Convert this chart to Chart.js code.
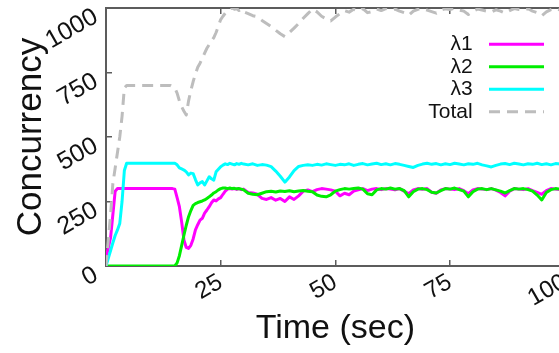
<!DOCTYPE html>
<html lang="en">
<head>
<meta charset="UTF-8">
<title>Concurrency over time</title>
<script src="https://cdn.jsdelivr.net/npm/chart.js@4.4.0/dist/chart.umd.min.js"></script>
<style>
  html, body { margin: 0; padding: 0; background: #fff; overflow: hidden; }
  #wrap { width: 559px; height: 353px; overflow: hidden; }
  canvas { display: block; }
</style>
</head>
<body>
<div id="wrap"><canvas id="concChart" width="600" height="353"></canvas></div>
<script>
// time in seconds: 0.5 s steps up to 30, then 1 s steps
const time = [
  0, 0.5, 1, 1.5, 2, 2.5, 3, 3.5, 4, 4.5,
  5, 5.5, 6, 6.5, 7, 7.5, 8, 8.5, 9, 9.5,
  10, 10.5, 11, 11.5, 12, 12.5, 13, 13.5, 14, 14.5,
  15, 15.5, 16, 16.5, 17, 17.5, 18, 18.5, 19, 19.5,
  20, 20.5, 21, 21.5, 22, 22.5, 23, 23.5, 24, 24.5,
  25, 25.5, 26, 26.5, 27, 27.5, 28, 28.5, 29, 29.5,
  30,
  31, 32, 33, 34, 35, 36, 37, 38, 39, 40,
  41, 42, 43, 44, 45, 46, 47, 48, 49, 50,
  51, 52, 53, 54, 55, 56, 57, 58, 59, 60,
  61, 62, 63, 64, 65, 66, 67, 68, 69, 70,
  71, 72, 73, 74, 75, 76, 77, 78, 79, 80,
  81, 82, 83, 84, 85, 86, 87, 88, 89, 90,
  91, 92, 93, 94, 95, 96, 97, 98, 99, 100
];

const lambda1 = [
  30, 70, 110, 200, 290, 300, 300, 300, 300, 300,
  300, 300, 300, 300, 300, 300, 300, 300, 300, 300,
  300, 300, 300, 300, 300, 300, 300, 300, 300, 300,
  298, 265, 230, 170, 100, 72, 68, 80, 105, 140,
  160, 178, 185, 205, 217, 230, 245, 256, 252, 260,
  265, 278, 290, 298, 300, 298, 300, 297, 300, 296,
  298,
  285, 283, 278, 262, 258, 265, 255, 262, 250, 268,
  258, 272, 290, 295, 288, 296, 300, 298, 295, 290,
  272, 282, 276, 290, 295, 300, 292, 298, 300, 296,
  300, 298, 295, 300, 290, 280, 295, 300, 297, 300,
  286, 282, 295, 300, 298, 296, 300, 292, 280, 295,
  300, 298, 296, 300, 294, 285, 272, 290, 300, 298,
  296, 300, 292, 285, 278, 292, 300, 298, 296, 300
];

const lambda2 = [
  0, 0, 0, 0, 0, 0, 0, 0, 0, 0,
  0, 0, 0, 0, 0, 0, 0, 0, 0, 0,
  0, 0, 0, 0, 0, 0, 0, 0, 0, 0,
  0, 12, 40, 80, 120, 158, 191, 215, 235, 242,
  246, 249, 252, 256, 262, 268, 275, 283, 288, 295,
  300, 302, 302, 300, 302, 300, 301, 299, 300, 298,
  295,
  282, 278, 276, 282, 288, 290, 287, 291, 289, 292,
  288, 291, 293, 290, 288, 275, 270, 268, 276, 290,
  296, 300, 298, 300, 302, 298, 280, 276, 295, 300,
  298, 302, 298, 300, 292, 268, 288, 298, 300, 296,
  286, 283, 292, 300, 298, 302, 296, 290, 268, 288,
  298, 300, 296, 300, 295, 290, 283, 292, 300, 298,
  300, 296, 290, 275, 256, 285, 296, 300, 298, 300
];

const lambda3 = [
  0, 30, 60, 90, 118, 140, 165, 250, 370, 398,
  398, 398, 398, 398, 398, 398, 398, 398, 398, 398,
  398, 398, 398, 398, 398, 398, 398, 398, 398, 398,
  398, 392, 380, 376, 372, 365, 353, 360, 358, 335,
  314, 322, 327, 314, 330, 346, 338, 333, 365, 375,
  385, 391, 396, 393, 398, 395, 392, 397, 394, 398,
  395,
  392, 396, 390, 393, 391, 385, 368, 348, 325, 345,
  370, 386, 390, 392, 390, 394, 391, 396, 393, 390,
  394, 392, 396, 390, 394, 397, 392, 395, 398, 393,
  396, 392, 397, 394, 390, 386, 382, 390, 395, 398,
  394, 397, 392, 396, 393, 398, 395, 392, 396, 394,
  398, 392, 388, 384, 390, 395, 397, 393, 398, 395,
  392, 396, 394, 398, 393, 396, 392, 397, 395, 394
];

const total = [
  0, 100, 200, 320, 380, 440, 500, 580, 690, 700,
  700, 700, 700, 700, 700, 700, 700, 700, 700, 700,
  700, 700, 700, 700, 700, 700, 700, 700, 700, 695,
  690, 670, 640, 617, 600, 585, 640, 680, 715, 745,
  770, 786, 805, 825, 844, 858, 872, 885, 905, 930,
  955, 968, 980, 990, 996, 1000, 995, 998, 990, 996,
  985,
  978, 970, 966, 952, 940, 928, 914, 900, 889, 905,
  922, 940, 960, 978, 996, 985, 968, 958, 950, 965,
  978, 990, 984, 995, 988, 998, 982, 986, 996, 990,
  998, 992, 996, 988, 982, 972, 988, 995, 998, 992,
  986, 980, 992, 997, 994, 999, 992, 988, 975, 988,
  996, 992, 988, 984, 993, 988, 980, 990, 998, 994,
  992, 997, 988, 982, 970, 985, 994, 998, 992, 995
];

const seriesNames = ['λ1', 'λ2', 'λ3', 'Total'];
const yTicks = [0, 250, 500, 750, 1000];
const xTicks = [0, 25, 50, 75, 100];

const FONT = '"Liberation Sans", Arial, Helvetica, sans-serif';
const AXIS = '#5c5c5c';
Chart.defaults.font.family = FONT;
Chart.defaults.color = '#111';

// gnuplot style key: sits inside the plot, top right
const keyInside = {
  id: 'keyInside',
  afterLayout(chart) {
    const lg = chart.legend;
    lg.left = 380; lg.right = 545.5; lg.width = lg.right - lg.left;
    lg.top = 32.3; lg.bottom = 150; lg.height = lg.bottom - lg.top;
  }
};

function noPad(s) {
  s.paddingLeft = 0; s.paddingRight = 0; s.paddingTop = 0; s.paddingBottom = 0;
}

const lineSet = (label, data, color, order, dash) => ({
  label, data, order,
  borderColor: color,
  backgroundColor: color,
  borderWidth: 3,
  borderDash: dash || [],
  borderJoinStyle: 'round',
  pointRadius: 0,
  tension: 0,
  fill: false
});

new Chart(document.getElementById('concChart'), {
  type: 'line',
  data: {
    labels: time,
    datasets: [
      lineSet(seriesNames[0], lambda1, '#ff00ff', 4),
      lineSet(seriesNames[1], lambda2, '#00ee00', 3),
      lineSet(seriesNames[2], lambda3, '#00ffff', 2),
      lineSet(seriesNames[3], total, '#bdbdbd', 1, [11, 7])
    ]
  },
  options: {
    responsive: false,
    animation: false,
    devicePixelRatio: 1,
    events: [],
    layout: { padding: { left: 0, top: 8, right: 35.3, bottom: 0 } },
    scales: {
      x: {
        type: 'linear', min: 0, max: 100,
        border: { display: true, color: AXIS, width: 2 },
        grid: { drawOnChartArea: false, tickLength: -6, color: AXIS, lineWidth: 1.5 },
        afterBuildTicks: s => { s.ticks = xTicks.map(v => ({ value: v })); },
        ticks: {
          minRotation: 30, maxRotation: 30, autoSkip: false, padding: 8,
          color: '#111', font: { size: 24 },
          callback: v => (v === 0 ? '' : String(v))
        },
        title: {
          display: true, text: 'Time (sec)', color: '#111',
          font: { size: 34 }, padding: { top: 0, bottom: 4 }
        },
        afterFit: s => { s.height = 87; noPad(s); }
      },
      xTop: {
        type: 'linear', position: 'top', min: 0, max: 100,
        border: { display: true, color: AXIS, width: 2 },
        grid: { drawOnChartArea: false, tickLength: -6, color: AXIS, lineWidth: 1.5 },
        afterBuildTicks: s => { s.ticks = xTicks.map(v => ({ value: v })); },
        ticks: { display: false },
        afterFit: s => { s.height = 0; noPad(s); }
      },
      y: {
        min: 0, max: 1000,
        border: { display: true, color: AXIS, width: 2 },
        grid: { drawOnChartArea: false, tickLength: -6, color: AXIS, lineWidth: 1.5 },
        afterBuildTicks: s => { s.ticks = yTicks.map(v => ({ value: v })); },
        ticks: {
          minRotation: 30, maxRotation: 30, padding: 16, labelOffset: 7,
          color: '#111', font: { size: 25 },
          callback: v => String(v)
        },
        title: {
          display: true, text: 'Concurrency', color: '#111',
          font: { size: 35 }, padding: { top: 10, bottom: 0 }
        },
        afterFit: s => { s.width = 106; noPad(s); }
      }
    },
    plugins: {
      tooltip: { enabled: false },
      legend: {
        display: true,
        position: 'chartArea',
        align: 'start',
        rtl: true,
        textDirection: 'ltr',
        labels: {
          usePointStyle: true,
          pointStyle: 'line',
          pointStyleWidth: 55,
          padding: 1.5,
          textAlign: 'left',
          color: '#111',
          font: { size: 21 },
          generateLabels: chart => chart.data.datasets.map((ds, i) => ({
            text: ds.label + ' ',
            datasetIndex: i,
            hidden: false,
            fillStyle: ds.borderColor,
            strokeStyle: ds.borderColor,
            fontColor: '#111',
            lineWidth: ds.borderWidth,
            lineDash: ds.borderDash,
            pointStyle: 'line'
          }))
        }
      }
    }
  },
  plugins: [keyInside]
});
</script>
</body>
</html>
